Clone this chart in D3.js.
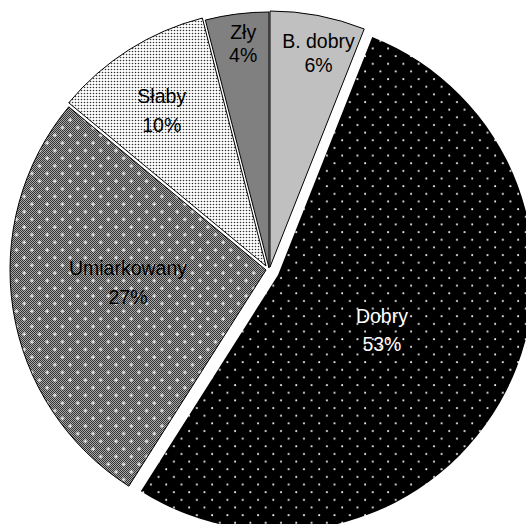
<!DOCTYPE html>
<html>
<head>
<meta charset="utf-8">
<script src="https://cdn.jsdelivr.net/npm/d3@7"></script>
<style>
  html, body { margin: 0; padding: 0; background: #fff; }
  svg { display: block; }
  text { font-family: "Liberation Sans", Arial, sans-serif; }
</style>
</head>
<body>
<svg id="chart" width="526" height="524"></svg>
<script>
// Share of ratings (percent), clockwise from 12 o'clock
const categories = ["B. dobry", "Dobry", "Umiarkowany", "Słaby", "Zły"];
const values = [6, 53, 27, 10, 4];
const valueLabels = ["6%", "53%", "27%", "10%", "4%"];

const W = 526, H = 524;
const cx = 269, cy = 270, R = 256;

// per-slice styling: fill, outline, explode distance, label placement, text colour
const style = {
  "B. dobry":    { fill: "#c0c0c0", stroke: "#000", explode: 3,  labelR: 0.85, nudge: [7.7, 1.6],  gap: 24,   text: "#000" },
  "Dobry":       { fill: "url(#pDots)", stroke: "none", explode: 10, labelR: 0.46, nudge: [-1, 2], gap: 28, text: "#fff" },
  "Umiarkowany": { fill: "url(#pChecker)", overlay: "url(#pPlus)", stroke: "#000", explode: 3, labelR: 0.54, nudge: [-1.5, -10], gap: 29, text: "#000" },
  "Słaby":       { fill: "url(#pFine)", stroke: "#000", explode: 5,  labelR: 0.72, nudge: [-5.5, 0], gap: 28.5, text: "#000" },
  "Zły":         { fill: "#808080", stroke: "#000", explode: 2,  labelR: 0.88, nudge: [2.4, 1.5],  gap: 23,   text: "#000" }
};

const svg = d3.select("#chart");
const defs = svg.append("defs");

// black with staggered light dots
const pd = defs.append("pattern").attr("id", "pDots")
  .attr("patternUnits", "userSpaceOnUse").attr("width", 15.3).attr("height", 15.3);
pd.append("rect").attr("width", 15.3).attr("height", 15.3).attr("fill", "#000");
pd.append("circle").attr("cx", 3).attr("cy", 3).attr("r", 1).attr("fill", "#eee");
pd.append("circle").attr("cx", 10.65).attr("cy", 10.65).attr("r", 1).attr("fill", "#eee");

// fine checkerboard, dark and light grey
const pc = defs.append("pattern").attr("id", "pChecker")
  .attr("patternUnits", "userSpaceOnUse").attr("width", 4).attr("height", 4);
pc.append("rect").attr("width", 4).attr("height", 4).attr("fill", "#a8a8a8");
[[0, 0], [2, 0], [1, 1], [3, 1], [0, 2], [2, 2], [1, 3], [3, 3]].forEach(([x, y]) => {
  pc.append("rect").attr("x", x).attr("y", y).attr("width", 1).attr("height", 1).attr("fill", "#333");
});

// white crosses laid over the checkerboard
const pp = defs.append("pattern").attr("id", "pPlus")
  .attr("patternUnits", "userSpaceOnUse").attr("width", 15.3).attr("height", 15.3);
[[3, 3], [10.65, 10.65]].forEach(([x, y]) => {
  pp.append("rect").attr("x", x - 2).attr("y", y - 0.5).attr("width", 4).attr("height", 1).attr("fill", "#fff");
  pp.append("rect").attr("x", x - 0.5).attr("y", y - 2).attr("width", 1).attr("height", 4).attr("fill", "#fff");
});

// fine dark dots on white
const pf = defs.append("pattern").attr("id", "pFine")
  .attr("patternUnits", "userSpaceOnUse").attr("width", 3).attr("height", 3);
pf.append("rect").attr("width", 3).attr("height", 3).attr("fill", "#fff");
pf.append("circle").attr("cx", 1.5).attr("cy", 1.5).attr("r", 0.8).attr("fill", "#333");

const data = categories.map((c, i) => ({ name: c, value: values[i], label: valueLabels[i] }));
const pie = d3.pie().value(d => d.value).sort(null);
const arcs = pie(data);
const arc = d3.arc().innerRadius(0).outerRadius(R);

// whole-pixel shift of a slice along its bisector
function offset(a, dist) {
  const m = (a.startAngle + a.endAngle) / 2;
  return [Math.round(Math.sin(m) * dist), Math.round(-Math.cos(m) * dist)];
}

const g = svg.append("g").attr("transform", `translate(${cx},${cy})`);

const slices = g.selectAll("g.slice").data(arcs).join("g")
  .attr("class", "slice")
  .attr("transform", d => {
    const [dx, dy] = offset(d, style[d.data.name].explode);
    return `translate(${dx},${dy})`;
  });

slices.append("path")
  .attr("d", arc)
  .attr("fill", d => style[d.data.name].fill)
  .attr("stroke", "none");

slices.filter(d => style[d.data.name].overlay)
  .append("path")
  .attr("d", arc)
  .attr("fill", d => style[d.data.name].overlay);

slices.append("path")
  .attr("d", arc)
  .attr("fill", "none")
  .attr("stroke", d => style[d.data.name].stroke)
  .attr("stroke-width", 1);

// two-line labels: category name and percentage
slices.each(function (d) {
  const s = style[d.data.name];
  const lr = s.labelR * R;
  const [x0, y0] = d3.arc().innerRadius(lr).outerRadius(lr).centroid(d);
  const lx = x0 + s.nudge[0], ly = y0 + s.nudge[1];
  const t = d3.select(this).append("text")
    .attr("text-anchor", "middle")
    .attr("font-size", "19.5px")
    .attr("fill", s.text);
  t.append("tspan").attr("x", lx).attr("y", ly - 7).text(d.data.name);
  t.append("tspan").attr("x", lx).attr("y", ly - 7 + s.gap).text(d.data.label);
});
</script>
</body>
</html>
